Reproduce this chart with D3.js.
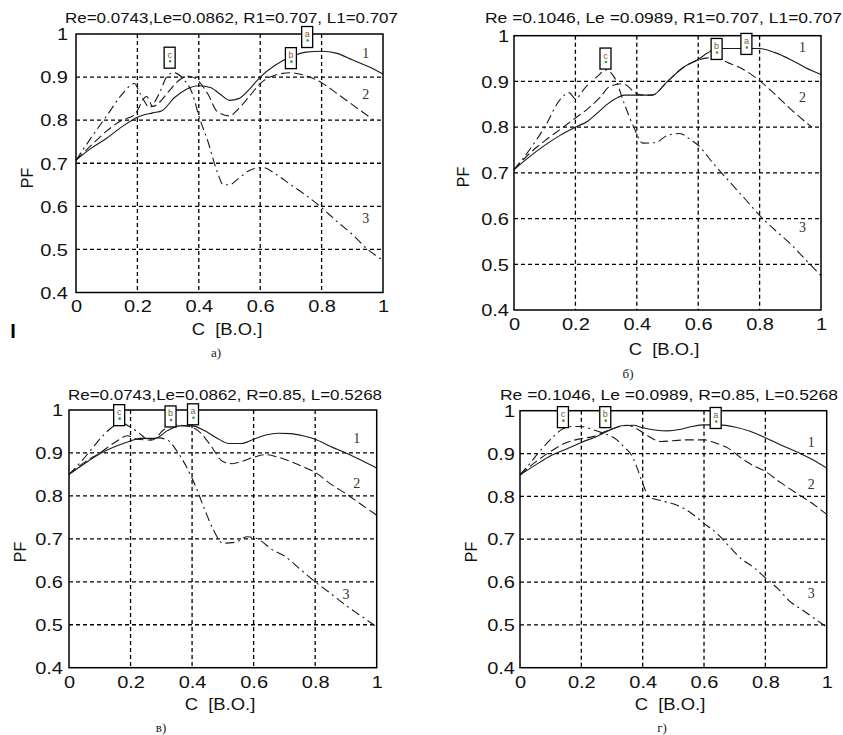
<!DOCTYPE html>
<html>
<head>
<meta charset="utf-8">
<script src="https://cdn.jsdelivr.net/npm/d3@7"></script>
<style>
    body { margin: 0; background: #fff; }
    svg { display: block; font-family: "Liberation Sans", Arial, sans-serif; }
</style>
</head>
<body>
<svg class="chart" width="843" height="735"></svg>
<script>
/* Data */

var xTicks = [0, 0.2, 0.4, 0.6, 0.8, 1],
    xTickLabels = ['0', '0.2', '0.4', '0.6', '0.8', '1'],
    yTicks = [0.4, 0.5, 0.6, 0.7, 0.8, 0.9, 1],
    yTickLabels = ['0.4', '0.5', '0.6', '0.7', '0.8', '0.9', '1'];

var titles = [
    'Re=0.0743,Le=0.0862, R1=0.707, L1=0.707',
    'Re =0.1046, Le =0.0989, R1=0.707, L1=0.707',
    'Re=0.0743,Le=0.0862, R=0.85, L=0.5268',
    'Re =0.1046, Le =0.0989, R=0.85, L=0.5268'
];
var panelLetters = ['а)', 'б)', 'в)', 'г)'];
var curveNames = ['1', '2', '3'];
var xLabel = 'C  [B.O.]',
    yLabel = 'PF';

/* panel а : [C, PF] */
var a1 = [[0,0.707],[0.05,0.735],[0.1,0.758],[0.15,0.785],[0.2,0.807],[0.25,0.817],[0.28,0.822],[0.32,0.852],[0.36,0.872],[0.4,0.88],[0.44,0.875],[0.47,0.86],[0.5,0.846],[0.53,0.85],[0.56,0.868],[0.6,0.9],[0.65,0.928],[0.7,0.947],[0.75,0.958],[0.8,0.96],[0.85,0.955],[0.9,0.94],[0.95,0.925],[1,0.907]];
var a2 = [[0,0.707],[0.05,0.742],[0.1,0.775],[0.15,0.8],[0.19,0.812],[0.23,0.855],[0.25,0.832],[0.27,0.84],[0.3,0.865],[0.34,0.895],[0.37,0.902],[0.4,0.89],[0.43,0.86],[0.46,0.82],[0.5,0.81],[0.53,0.827],[0.57,0.86],[0.6,0.885],[0.65,0.905],[0.7,0.91],[0.74,0.905],[0.8,0.887],[0.85,0.862],[0.9,0.836],[0.97,0.8]];
var a3 = [[0,0.707],[0.05,0.76],[0.1,0.81],[0.15,0.86],[0.19,0.885],[0.21,0.86],[0.24,0.83],[0.27,0.86],[0.3,0.905],[0.32,0.91],[0.35,0.895],[0.38,0.86],[0.4,0.81],[0.43,0.75],[0.46,0.68],[0.48,0.65],[0.5,0.65],[0.53,0.665],[0.57,0.685],[0.61,0.69],[0.65,0.675],[0.7,0.65],[0.75,0.625],[0.8,0.597],[0.85,0.565],[0.9,0.535],[0.95,0.5],[1,0.475]];
var aMarks = [['c',0.305,0.945],['b',0.70,0.944],['a',0.753,0.993]];

/* panel б */
var b1 = [[0,0.707],[0.05,0.735],[0.1,0.76],[0.15,0.782],[0.2,0.8],[0.24,0.813],[0.27,0.83],[0.3,0.848],[0.33,0.862],[0.36,0.87],[0.45,0.87],[0.5,0.9],[0.55,0.93],[0.6,0.948],[0.63,0.962],[0.66,0.972],[0.76,0.972],[0.8,0.972],[0.85,0.963],[0.9,0.948],[0.95,0.93],[1,0.915]];
var b2 = [[0,0.707],[0.05,0.742],[0.1,0.77],[0.15,0.795],[0.2,0.82],[0.24,0.84],[0.28,0.865],[0.31,0.888],[0.35,0.895],[0.37,0.89],[0.39,0.877],[0.42,0.87],[0.45,0.87],[0.5,0.9],[0.55,0.93],[0.6,0.947],[0.65,0.952],[0.7,0.94],[0.75,0.925],[0.79,0.907],[0.85,0.872],[0.9,0.84],[0.97,0.8]];
var b3 = [[0,0.707],[0.05,0.75],[0.1,0.8],[0.15,0.86],[0.18,0.875],[0.2,0.862],[0.23,0.885],[0.27,0.91],[0.3,0.925],[0.33,0.905],[0.36,0.85],[0.39,0.8],[0.42,0.765],[0.46,0.766],[0.5,0.782],[0.54,0.786],[0.57,0.775],[0.6,0.76],[0.65,0.72],[0.7,0.682],[0.75,0.645],[0.8,0.607],[0.85,0.575],[0.9,0.545],[0.95,0.51],[1,0.475]];
var bMarks = [['c',0.298,0.95],['b',0.66,0.971],['a',0.757,0.982]];

/* panel в */
var v1 = [[0,0.85],[0.05,0.875],[0.1,0.898],[0.15,0.915],[0.2,0.928],[0.23,0.934],[0.28,0.934],[0.32,0.952],[0.36,0.963],[0.4,0.963],[0.44,0.952],[0.48,0.935],[0.52,0.922],[0.56,0.922],[0.6,0.932],[0.64,0.942],[0.68,0.946],[0.72,0.945],[0.76,0.94],[0.8,0.932],[0.85,0.915],[0.9,0.9],[0.95,0.883],[1,0.865]];
var v2 = [[0,0.85],[0.05,0.878],[0.1,0.9],[0.15,0.925],[0.19,0.94],[0.22,0.932],[0.27,0.93],[0.31,0.955],[0.35,0.965],[0.39,0.962],[0.43,0.945],[0.46,0.918],[0.5,0.88],[0.53,0.875],[0.56,0.88],[0.6,0.89],[0.64,0.896],[0.68,0.89],[0.72,0.88],[0.76,0.868],[0.8,0.855],[0.85,0.828],[0.9,0.805],[0.95,0.78],[1,0.755]];
var v3 = [[0,0.85],[0.04,0.88],[0.08,0.915],[0.11,0.94],[0.14,0.96],[0.17,0.97],[0.2,0.96],[0.23,0.945],[0.26,0.93],[0.29,0.935],[0.32,0.93],[0.35,0.905],[0.38,0.87],[0.41,0.825],[0.44,0.77],[0.47,0.72],[0.5,0.69],[0.54,0.692],[0.58,0.705],[0.62,0.697],[0.66,0.675],[0.7,0.66],[0.75,0.63],[0.8,0.6],[0.85,0.573],[0.9,0.545],[0.95,0.52],[1,0.495]];
var vMarks = [['c',0.163,0.988],['b',0.33,0.985],['a',0.403,0.99]];

/* panel г */
var g1 = [[0,0.85],[0.05,0.873],[0.1,0.895],[0.15,0.91],[0.2,0.926],[0.25,0.94],[0.3,0.957],[0.33,0.965],[0.37,0.966],[0.4,0.96],[0.44,0.955],[0.48,0.953],[0.52,0.956],[0.56,0.963],[0.6,0.967],[0.65,0.967],[0.7,0.962],[0.75,0.952],[0.8,0.937],[0.85,0.92],[0.9,0.905],[0.95,0.887],[1,0.866]];
var g2 = [[0,0.85],[0.05,0.88],[0.1,0.905],[0.15,0.925],[0.2,0.935],[0.24,0.94],[0.28,0.952],[0.32,0.962],[0.35,0.966],[0.38,0.958],[0.42,0.94],[0.46,0.928],[0.5,0.93],[0.55,0.932],[0.6,0.932],[0.64,0.924],[0.68,0.912],[0.72,0.89],[0.76,0.872],[0.8,0.858],[0.85,0.832],[0.9,0.808],[0.95,0.785],[1,0.758]];
var g3 = [[0,0.85],[0.03,0.875],[0.07,0.91],[0.11,0.94],[0.14,0.958],[0.17,0.963],[0.2,0.963],[0.24,0.955],[0.28,0.945],[0.31,0.935],[0.34,0.915],[0.36,0.9],[0.38,0.87],[0.4,0.83],[0.42,0.8],[0.46,0.79],[0.51,0.78],[0.56,0.76],[0.6,0.737],[0.64,0.715],[0.68,0.685],[0.72,0.655],[0.76,0.635],[0.8,0.61],[0.84,0.585],[0.88,0.555],[0.92,0.535],[0.96,0.515],[1,0.495]];
var gMarks = [['c',0.14,0.985],['b',0.278,0.985],['a',0.638,0.983]];

(function () {
    'use strict';

    /* Layout of the four panels (pixels) */

    var panels = [
        { curves: [a1, a2, a3], marks: aMarks, x0: 76, x1: 383, yT: 34, yB: 292.5,
          titleX: 65, titleW: 333, titleY: 23, tickY: 312, tickR: 68,
          xlabX: 227, xlabY: 335, ylabX: 27, ylabY: 178, letX: 216, letY: 357,
          labs: [[0.944, 0.956], [0.944, 0.86], [0.944, 0.572]] },
        { curves: [b1, b2, b3], marks: bMarks, x0: 514, x1: 821, yT: 35.7, yB: 310,
          titleX: 485, titleW: 357, titleY: 23, tickY: 330, tickR: 509,
          xlabX: 664, xlabY: 355, ylabX: 463, ylabY: 177, letX: 628, letY: 378,
          labs: [[0.94, 0.976], [0.94, 0.866], [0.94, 0.582]] },
        { curves: [v1, v2, v3], marks: vMarks, x0: 69, x1: 376.7, yT: 410, yB: 667.7,
          titleX: 68, titleW: 314, titleY: 400, tickY: 688, tickR: 63,
          xlabX: 220, xlabY: 710, ylabX: 20, ylabY: 552, letX: 161, letY: 732,
          labs: [[0.935, 0.934], [0.935, 0.829], [0.9, 0.571]] },
        { curves: [g1, g2, g3], marks: gMarks, x0: 520, x1: 826.7, yT: 410.7, yB: 667.7,
          titleX: 500, titleW: 338, titleY: 400, tickY: 688, tickR: 515,
          xlabX: 670, xlabY: 710, ylabX: 471, ylabY: 552, letX: 662, letY: 732,
          labs: [[0.95, 0.928], [0.95, 0.83], [0.95, 0.574]] }
    ];

    var dashes = [null, '9,4', '9,4,2,4'];

    var svg = d3.select('.chart');

    /* the scanned glyphs are wider than the font's own */
    function widen(sel, k) {
        sel.each(function () {
            var w = this.getComputedTextLength();
            d3.select(this)
                .attr('textLength', w * k)
                .attr('lengthAdjust', 'spacingAndGlyphs');
        });
    }

    panels.forEach(function (p, i) {

        var x = d3.scaleLinear().domain([0, 1]).range([p.x0, p.x1]),
            y = d3.scaleLinear().domain([0.4, 1]).range([p.yB, p.yT]);

        var g = svg.append('g');

        /* Grid */

        var grid = g.append('g');

        grid.append('g').selectAll('line')
            .data(xTicks.slice(1, -1))
            .join('line')
            .attr('x1', function (d) { return x(d); })
            .attr('x2', function (d) { return x(d); })
            .attr('y1', p.yT).attr('y2', p.yB);

        grid.append('g').selectAll('line')
            .data(yTicks.slice(1, -1))
            .join('line')
            .attr('y1', function (d) { return y(d); })
            .attr('y2', function (d) { return y(d); })
            .attr('x1', p.x0).attr('x2', p.x1);

        grid.selectAll('line')
            .style('stroke', '#000')
            .style('stroke-width', 1.3)
            .style('stroke-dasharray', '4,3');

        /* Axes */

        var xAxis = d3.axisBottom(x).tickValues(xTicks).tickSize(0)
            .tickFormat(function (d, k) { return xTickLabels[k]; });
        var yAxis = d3.axisLeft(y).tickValues(yTicks).tickSize(0)
            .tickFormat(function (d, k) { return yTickLabels[k]; });

        g.append('g')
            .attr('transform', 'translate(0,' + p.yB + ')')
            .call(xAxis)
            .call(function (a) { a.select('.domain').remove(); })
            .selectAll('text')
            .attr('y', p.tickY - p.yB).attr('dy', null)
            .style('font-family', '"Liberation Sans", Arial, sans-serif')
            .style('font-size', '16px').style('fill', '#111')
            .call(widen, 1.25);

        g.append('g')
            .attr('transform', 'translate(' + p.x0 + ',0)')
            .call(yAxis)
            .call(function (a) { a.select('.domain').remove(); })
            .selectAll('text')
            .attr('x', p.tickR - p.x0).attr('dy', '0.36em')
            .style('font-family', '"Liberation Sans", Arial, sans-serif')
            .style('font-size', '16px').style('fill', '#111')
            .call(widen, 1.25);

        /* Curves */

        var line = d3.line()
            .x(function (d) { return x(d[0]); })
            .y(function (d) { return y(d[1]); })
            .curve(d3.curveMonotoneX);

        p.curves.forEach(function (c, k) {
            g.append('path')
                .datum(c)
                .attr('d', line)
                .style('fill', 'none')
                .style('stroke', '#1a1a1a')
                .style('stroke-width', 1.1)
                .style('stroke-dasharray', dashes[k]);
        });

        /* Frame */

        g.append('rect')
            .attr('x', p.x0).attr('y', p.yT)
            .attr('width', p.x1 - p.x0).attr('height', p.yB - p.yT)
            .style('fill', 'none').style('stroke', '#000').style('stroke-width', 1.5);

        /* Data tips */

        var tip = g.append('g').selectAll('g')
            .data(p.marks)
            .join('g')
            .attr('transform', function (d) { return 'translate(' + x(d[1]) + ',' + y(d[2]) + ')'; });

        tip.append('rect')
            .attr('x', -5.5).attr('y', -10.5).attr('width', 11).attr('height', 21)
            .style('fill', '#fff').style('stroke', '#000').style('stroke-width', 1.3);

        tip.append('text')
            .attr('text-anchor', 'middle').attr('y', 0)
            .style('font-size', '9px').style('fill', '#7a6030')
            .text(function (d) { return d[0]; });

        tip.append('circle')
            .attr('cx', 0.5).attr('cy', 3.5).attr('r', 1.3)
            .style('fill', '#3a9a3a');

        /* Curve numbers */

        g.append('g').selectAll('text')
            .data(curveNames)
            .join('text')
            .attr('x', function (d, k) { return x(p.labs[k][0]); })
            .attr('y', function (d, k) { return y(p.labs[k][1]) + 5; })
            .attr('text-anchor', 'middle')
            .style('font-family', '"Liberation Serif", "DejaVu Serif", serif')
            .style('font-size', '14px').style('fill', '#3a3020')
            .text(function (d) { return d; });

        /* Texts */

        g.append('text')
            .attr('x', p.titleX).attr('y', p.titleY)
            .attr('textLength', p.titleW).attr('lengthAdjust', 'spacingAndGlyphs')
            .style('font-size', '15px').style('fill', '#111')
            .text(titles[i]);

        g.append('text')
            .attr('x', p.xlabX).attr('y', p.xlabY)
            .attr('text-anchor', 'middle')
            .style('font-size', '16px').style('fill', '#111')
            .style('white-space', 'pre')
            .text(xLabel)
            .call(widen, 1.15);

        g.append('text')
            .attr('transform', 'translate(' + p.ylabX + ',' + p.ylabY + ') rotate(-90)')
            .attr('text-anchor', 'middle').attr('dy', '0.36em')
            .style('font-size', '16px').style('fill', '#111')
            .text(yLabel);

        g.append('text')
            .attr('x', p.letX).attr('y', p.letY)
            .attr('text-anchor', 'middle')
            .style('font-family', '"Liberation Serif", "DejaVu Serif", serif')
            .style('font-size', '13px').style('fill', '#222')
            .text(panelLetters[i]);
    });

    /* Stray mark left of panel а */

    svg.append('text')
        .attr('x', 13).attr('y', 338)
        .attr('text-anchor', 'middle')
        .style('font-size', '20px').style('font-weight', 'bold').style('fill', '#000')
        .text('I');

})();
</script>
</body>
</html>
